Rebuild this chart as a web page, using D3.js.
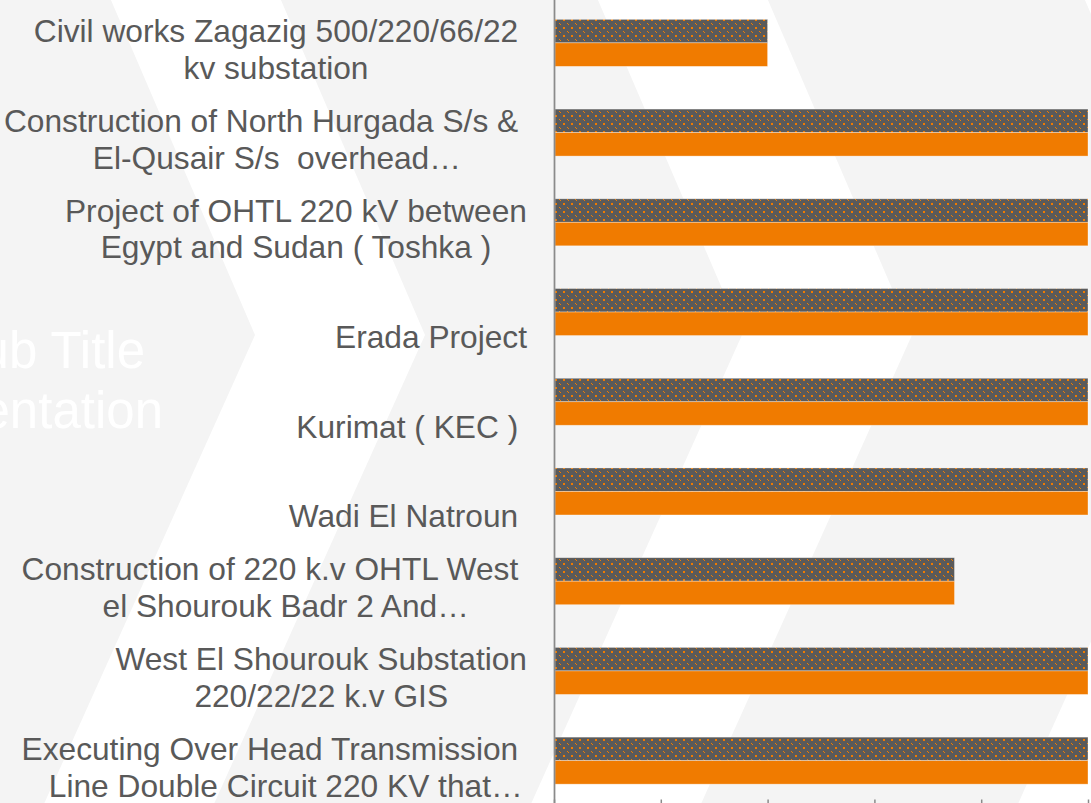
<!DOCTYPE html>
<html>
<head>
<meta charset="utf-8">
<script src="https://cdn.jsdelivr.net/npm/d3@7"></script>
<style>
  html, body { margin: 0; padding: 0; background: #f4f4f4; overflow: hidden; }
  text { white-space: pre; }
</style>
</head>
<body>
<div id="chart"></div>
<script>
// category names, "\n" marks where the label wraps
var categories = [
  "Civil works Zagazig 500/220/66/22 \nkv substation",
  "Construction of North Hurgada S/s & \nEl-Qusair S/s  overhead\u2026",
  "Project of OHTL 220 kV between\nEgypt and Sudan ( Toshka )",
  "Erada Project",
  "Kurimat ( KEC ) ",
  "Wadi El Natroun ",
  "Construction of 220 k.v OHTL West \nel Shourouk Badr 2 And\u2026",
  "West El Shourouk Substation\n220/22/22 k.v GIS",
  "Executing Over Head Transmission \nLine Double Circuit 220 KV that\u2026"
];
var planned = [40, 100, 100, 100, 100, 100, 75, 100, 100];
var actual  = [40, 100, 100, 100, 100, 100, 75, 100, 100];
var xTicks  = [0, 20, 40, 60, 80, 100];
var subTitle = ["Sub Title", "Presentation"];

var width = 1091, height = 803;
var textColor = "#595959", orange = "#f07b00", darkGray = "#5a5a5a";

var svg = d3.select("#chart").append("svg")
  .attr("width", width)
  .attr("height", height);

////////////////////////////////////////////////////////////
//////////////////// Slide background //////////////////////
////////////////////////////////////////////////////////////

svg.append("rect").attr("width", width).attr("height", height).attr("fill", "#f4f4f4");

var apexY = 335, slopeUp = 0.43, slopeDown = 0.45, bandW = 170;
[255, 742, 1229].forEach(function(ax) {
  var pts = [
    [ax - slopeUp * apexY, 0], [ax - slopeUp * apexY + bandW, 0],
    [ax + bandW, apexY],
    [ax - slopeDown * (height - apexY) + bandW, height], [ax - slopeDown * (height - apexY), height],
    [ax, apexY]
  ];
  svg.append("polygon").attr("points", pts.join(" ")).attr("fill", "#ffffff");
});

svg.selectAll("text.subtitle")
  .data(subTitle)
  .enter().append("text")
  .attr("class", "subtitle")
  .attr("x", function(d, i) { return i === 0 ? 145 : 163; })
  .attr("y", function(d, i) { return 368 + i * 60; })
  .attr("text-anchor", "end")
  .style("font-family", "'Liberation Sans Narrow', 'Liberation Sans', Arial, sans-serif")
  .style("font-size", "51px")
  .style("fill", "#ffffff")
  .text(function(d) { return d; });

////////////////////////////////////////////////////////////
/////////////////////// Scales //////////////////////////////
////////////////////////////////////////////////////////////

var x = d3.scaleLinear().domain([0, 100]).range([554, 1088]);

var y = d3.scaleBand()
  .domain(d3.range(categories.length))
  .range([-2, 805.5])
  .paddingInner(0.476)
  .paddingOuter(0.238);

var ySub = d3.scaleBand()
  .domain(["planned", "actual"])
  .range([0, y.bandwidth()]);

// dotted fill of the first series
var defs = svg.append("defs");
var pat = defs.append("pattern")
  .attr("id", "dots")
  .attr("patternUnits", "userSpaceOnUse")
  .attr("width", 8).attr("height", 8);
pat.append("rect").attr("width", 8).attr("height", 8).attr("fill", darkGray);
pat.append("rect").attr("x", 3).attr("y", 3).attr("width", 2).attr("height", 2).attr("fill", orange);
pat.append("rect").attr("x", 7).attr("y", 7).attr("width", 2).attr("height", 2).attr("fill", orange);
pat.append("rect").attr("x", -1).attr("y", -1).attr("width", 2).attr("height", 2).attr("fill", orange);

////////////////////////////////////////////////////////////
//////////////////////// Bars ///////////////////////////////
////////////////////////////////////////////////////////////

var series = [
  { key: "planned", values: planned, fill: "url(#dots)" },
  { key: "actual", values: actual, fill: orange }
];

series.forEach(function(s) {
  svg.append("g").selectAll("rect")
    .data(s.values)
    .enter().append("rect")
    .attr("x", x(0) + 1)
    .attr("y", function(d, i) { return y(i) + ySub(s.key); })
    .attr("width", function(d) { return x(d) - x(0) - 1; })
    .attr("height", ySub.bandwidth())
    .attr("fill", s.fill)
    .attr("stroke", "#ffffff")
    .attr("stroke-opacity", 0.45)
    .attr("stroke-width", 0.75);
});

////////////////////////////////////////////////////////////
//////////////////////// Axes ///////////////////////////////
////////////////////////////////////////////////////////////

var yAxis = svg.append("g")
  .attr("transform", "translate(" + x(0) + ",0)")
  .call(d3.axisLeft(y).tickSize(0).tickFormat(""));
yAxis.select(".domain").attr("stroke", "#8a8a8a").attr("stroke-width", 1.75);

var xAxis = svg.append("g")
  .attr("transform", "translate(0,805.5)")
  .call(d3.axisBottom(x).tickValues(xTicks).tickSizeInner(-6).tickSizeOuter(0).tickFormat(""));
xAxis.select(".domain").attr("stroke", "none");
xAxis.selectAll(".tick line").attr("stroke", "#8a8a8a").attr("stroke-width", 1.5);

////////////////////////////////////////////////////////////
/////////////////////// Labels //////////////////////////////
////////////////////////////////////////////////////////////

var fontSize = 31.7, lineGap = 36.7, labelRight = 527;
var measure = svg.append("text")
  .style("font-family", "'Liberation Sans', Arial, sans-serif")
  .style("font-size", fontSize + "px");
function textW(str) {
  measure.text(str);
  return measure.node().getComputedTextLength();
}

categories.forEach(function(name, i) {
  var lines = name.split("\n");
  var info = lines.map(function(l) {
    var core = l.replace(/[ \u2026]+$/, "");
    var cw = textW(core);
    return { text: l, core: cw, trail: textW(l) - cw };
  });
  var center = d3.min(info, function(d) { return labelRight - d.core / 2 - d.trail; });
  var yc = y(i) + y.bandwidth() / 2;
  var n = lines.length;
  info.forEach(function(d, j) {
    svg.append("text")
      .attr("x", center - d.core / 2)
      .attr("y", yc + 36 - (n - 1 - j) * lineGap)
      .style("font-family", "'Liberation Sans', Arial, sans-serif")
      .style("font-size", fontSize + "px")
      .style("fill", textColor)
      .text(d.text);
  });
});
measure.remove();
</script>
</body>
</html>
